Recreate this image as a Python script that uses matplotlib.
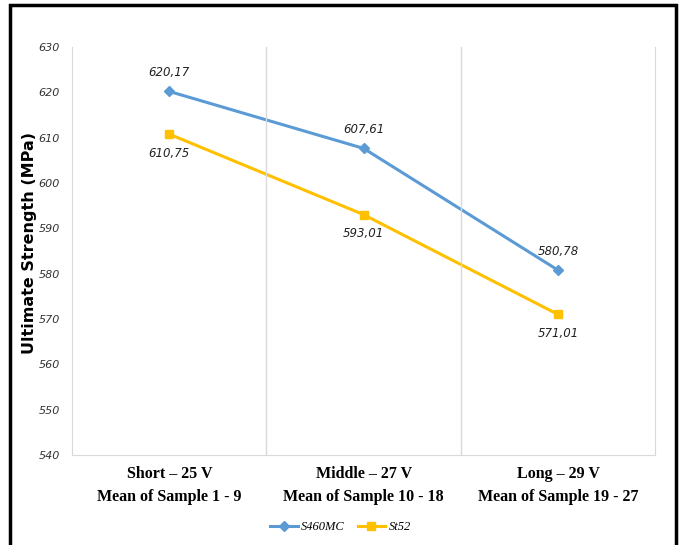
import numpy as np
import matplotlib.pyplot as plt
from matplotlib.patches import Rectangle

categories = ['Short \u2013 25 V\nMean of Sample 1 - 9',
              'Middle \u2013 27 V\nMean of Sample 10 - 18',
              'Long \u2013 29 V\nMean of Sample 19 - 27']
s460mc = [620.17, 607.61, 580.78]
st52 = [610.75, 593.01, 571.01]
yticks = np.arange(540, 631, 10)

blue = '#5B9BD5'
yellow = '#FFC000'

fig = plt.figure(figsize=(6.81, 5.45), dpi=100)
ax = fig.add_axes([0.106, 0.165, 0.856, 0.749])

x = np.arange(len(categories))
ax.plot(x, s460mc, color=blue, lw=2.2, marker='D', ms=5, label='S460MC')
ax.plot(x, st52, color=yellow, lw=2.2, marker='s', ms=6, label='St52')

# data labels, comma decimals
for xi, v in zip(x, s460mc):
    ax.annotate(f'{v:.2f}'.replace('.', ','), (xi, v), xytext=(0, 9),
                textcoords='offset points', ha='center', va='bottom',
                fontsize=8.5, style='italic', color='#222222')
for xi, v in zip(x, st52):
    ax.annotate(f'{v:.2f}'.replace('.', ','), (xi, v), xytext=(0, -9),
                textcoords='offset points', ha='center', va='top',
                fontsize=8.5, style='italic', color='#222222')

ax.set_xlim(-0.5, 2.5)
ax.set_ylim(540, 630)
ax.set_yticks(yticks)
ax.set_yticklabels([str(t) for t in yticks], fontsize=8, style='italic', color='#333333')
ax.set_xticks(x)
ax.set_xticklabels(categories, family='Liberation Serif', fontweight='bold',
                   fontsize=11.5, linespacing=1.55)
ax.tick_params(axis='both', length=0)
ax.tick_params(axis='x', pad=8)
ax.tick_params(axis='y', pad=9)

for b in [0.5, 1.5]:
    ax.axvline(b, color='#d9d9d9', lw=1)
ax.spines['top'].set_visible(False)
for side in ['left', 'right', 'bottom']:
    ax.spines[side].set_color('#d9d9d9')

ax.set_ylabel('Ultimate Strength (MPa)', fontsize=11.5, fontweight='bold')
ax.yaxis.set_label_coords(-0.06, 0.52)

leg = fig.legend(loc='center', bbox_to_anchor=(0.5, 0.033), ncol=2, frameon=False,
                 handlelength=2.2, columnspacing=1.0, handletextpad=0.3,
                 prop={'family': 'Liberation Serif', 'style': 'italic', 'size': 9})

fig.patches.append(Rectangle((10 / 681, -0.02), 666 / 681, 1 - 5 / 545 + 0.02,
                             transform=fig.transFigure, fill=False,
                             edgecolor='black', lw=2.5))

fig.savefig('out.png', dpi=100)
